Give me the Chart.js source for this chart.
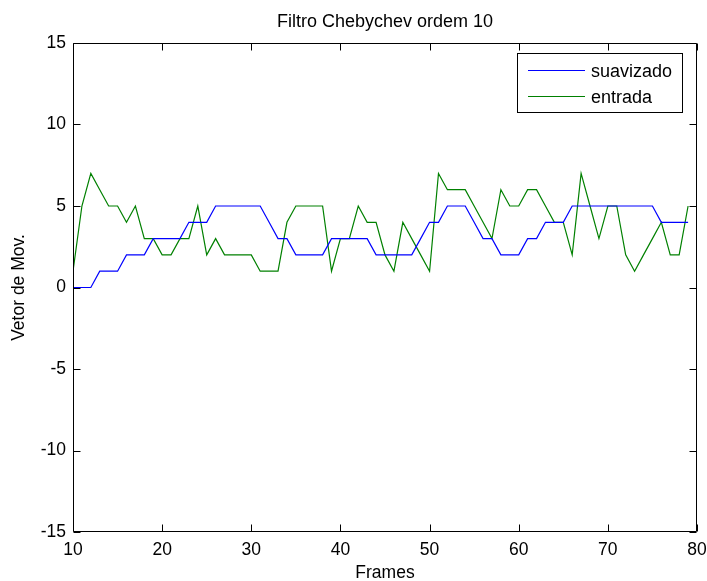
<!DOCTYPE html>
<html><head><meta charset="utf-8">
<script src="https://cdn.jsdelivr.net/npm/chart.js@4/dist/chart.umd.min.js"></script>
<style>html,body{margin:0;padding:0;background:#fff}canvas{display:block}</style>
</head><body>
<canvas id="c" width="707" height="581"></canvas>
<script>
const frames = [10,11,12,13,14,15,16,17,18,19,20,21,22,23,24,25,26,27,28,29,30,31,32,33,34,35,36,37,38,39,40,41,42,43,44,45,46,47,48,49,50,51,52,53,54,55,56,57,58,59,60,61,62,63,64,65,66,67,68,69,70,71,72,73,74,75,76,77,78,79];
const suavizado = [0,0,0,1,1,1,2,2,2,3,3,3,3,4,4,4,5,5,5,5,5,5,4,3,3,2,2,2,2,3,3,3,3,3,2,2,2,2,2,3,4,4,5,5,5,4,3,3,2,2,2,3,3,4,4,4,5,5,5,5,5,5,5,5,5,5,4,4,4,4];
const entrada = [1,5,7,6,5,5,4,5,3,3,2,2,3,3,5,2,3,2,2,2,2,1,1,1,4,5,5,5,5,1,3,3,5,4,4,2,1,4,3,2,1,7,6,6,6,5,4,3,6,5,5,6,6,5,4,4,2,7,5,3,5,5,2,1,2,3,4,2,2,5];
const xTicks = [10,20,30,40,50,60,70,80];
const yTicks = [-15,-10,-5,0,5,10,15];
const seriesNames = ['suavizado','entrada'];
const seriesColors = ['#0000ff','#008000'];
const titleText = 'Filtro Chebychev ordem 10';
const xLabel = 'Frames';
const yLabel = 'Vetor de Mov.';

const FONT = '"Liberation Sans", Arial, sans-serif';
Chart.defaults.font.family = FONT;
Chart.defaults.color = '#000';

const deco = {
  id: 'deco',
  afterDraw(chart) {
    const ctx = chart.ctx, a = chart.chartArea;
    const xs = chart.scales.x, ys = chart.scales.y;
    const L = Math.round(a.left) + 0.5, R = Math.round(a.right) - 0.5;
    const T = Math.round(a.top) + 0.5, B = Math.round(a.bottom) - 0.5;
    ctx.save();
    ctx.strokeStyle = '#000'; ctx.lineWidth = 1;
    ctx.beginPath();
    ctx.rect(L, T, R - L, B - T);
    const tl = 7;
    xTicks.forEach(v => {
      const px = Math.round(xs.getPixelForValue(v)) + 0.5;
      ctx.moveTo(px, B); ctx.lineTo(px, B - tl);
      ctx.moveTo(px, T); ctx.lineTo(px, T + tl);
    });
    yTicks.forEach(v => {
      const py = Math.round(ys.getPixelForValue(v)) + 0.5;
      ctx.moveTo(L, py); ctx.lineTo(L + tl, py);
      ctx.moveTo(R, py); ctx.lineTo(R - tl, py);
    });
    ctx.stroke();

    // legend
    const lx = 517.5, ly = 53.5, lw = 165, lh = 59;
    ctx.fillStyle = '#fff';
    ctx.fillRect(lx, ly, lw, lh);
    ctx.strokeRect(lx, ly, lw, lh);
    ctx.font = '18px ' + FONT;
    ctx.textAlign = 'left'; ctx.textBaseline = 'alphabetic';
    seriesNames.forEach((n, i) => {
      const y = 69.5 + i * 26.7;
      ctx.strokeStyle = seriesColors[i];
      ctx.beginPath(); ctx.moveTo(528, Math.round(y) + 0.5); ctx.lineTo(585, Math.round(y) + 0.5); ctx.stroke();
      ctx.fillStyle = '#000';
      ctx.fillText(n, 591, y + 7);
    });

    // titles
    ctx.fillStyle = '#000';
    ctx.textAlign = 'center';
    ctx.font = '18px ' + FONT;
    ctx.fillText(titleText, (a.left + a.right) / 2, 27);
    ctx.font = '17.5px ' + FONT;
    ctx.fillText(xLabel, (a.left + a.right) / 2, 578);
    ctx.translate(24, (a.top + a.bottom) / 2);
    ctx.rotate(-Math.PI / 2);
    ctx.fillText(yLabel, 0, 0);
    ctx.restore();
  }
};

new Chart(document.getElementById('c'), {
  type: 'line',
  data: {
    datasets: [
      { label: seriesNames[0], data: frames.map((f, i) => ({ x: f, y: suavizado[i] })), borderColor: seriesColors[0], borderWidth: 1.2, pointRadius: 0, tension: 0, fill: false },
      { label: seriesNames[1], data: frames.map((f, i) => ({ x: f, y: entrada[i] })), borderColor: seriesColors[1], borderWidth: 1.2, pointRadius: 0, tension: 0, fill: false }
    ]
  },
  options: {
    responsive: false, animation: false, devicePixelRatio: 1,
    layout: { padding: { top: 43, right: 0, left: 0, bottom: 0 } },
    plugins: { legend: { display: false }, title: { display: false }, tooltip: { enabled: false } },
    scales: {
      x: {
        type: 'linear', min: 10, max: 80,
        afterBuildTicks: s => { s.ticks = xTicks.map(v => ({ value: v })); },
        afterFit: s => { s.height = 49; s.paddingRight = 10; s.paddingLeft = 0; },
        grid: { display: false, drawTicks: false }, border: { display: false },
        ticks: { font: { size: 17.5 }, color: '#000', padding: 8, maxRotation: 0, autoSkip: false }
      },
      y: {
        type: 'linear', min: -15, max: 15,
        afterBuildTicks: s => { s.ticks = yTicks.map(v => ({ value: v })); },
        afterFit: s => { s.width = 73; },
        grid: { display: false, drawTicks: false }, border: { display: false },
        ticks: { font: { size: 17.5 }, color: '#000', padding: 7, autoSkip: false }
      }
    }
  },
  plugins: [deco]
});
</script>
</body></html>
